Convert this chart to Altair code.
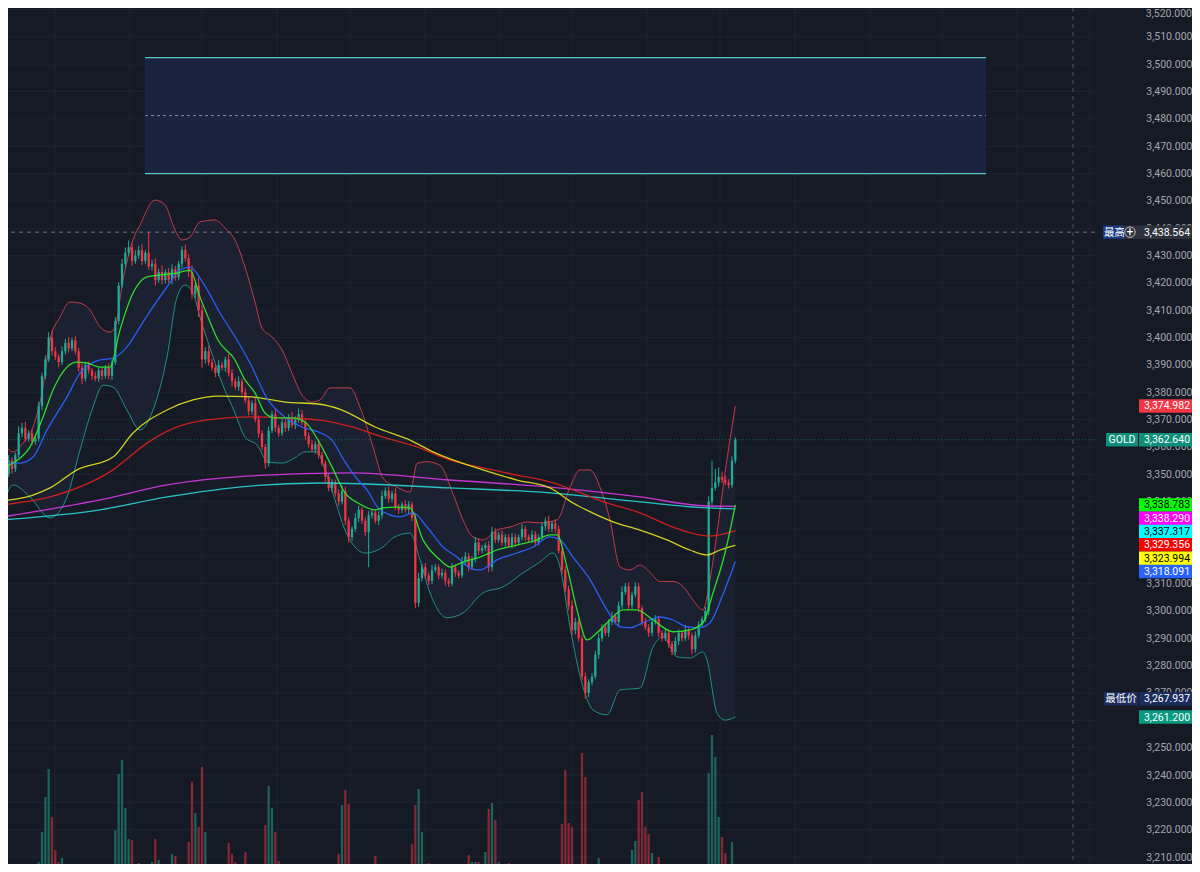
import altair as alt
import pandas as pd
import numpy as np

# ---------------- data ----------------
first_open = 3357.0
closes = [
    3354, 3350, 3355, 3352, 3357, 3365, 3367, 3363, 3365, 3362,
    3363, 3375, 3386, 3392, 3400, 3395, 3393, 3391, 3395, 3398,
    3396, 3399, 3395, 3389, 3385, 3390, 3388, 3386, 3385, 3388,
    3386, 3389, 3386, 3391, 3406, 3419, 3427, 3431, 3433, 3428,
    3430, 3432, 3428, 3431, 3426, 3427, 3421, 3424, 3421, 3424,
    3421, 3425, 3422, 3427, 3432, 3429, 3424, 3416, 3419, 3410,
    3392, 3395, 3391, 3389, 3387, 3390, 3389, 3392, 3387, 3384,
    3382, 3384, 3380, 3377, 3373, 3376, 3370, 3365, 3360, 3354,
    3366, 3372, 3367, 3365, 3369, 3367, 3371, 3368, 3370, 3372,
    3369, 3364, 3361, 3359, 3361, 3357, 3354, 3349, 3345, 3347,
    3343, 3340, 3344, 3333, 3327, 3330, 3334, 3337, 3333, 3329,
    3335, 3336, 3333, 3335, 3342, 3344, 3341, 3343, 3338, 3337,
    3339, 3337, 3339, 3334, 3303, 3312, 3316, 3313, 3311, 3315,
    3316, 3313, 3314, 3311, 3310, 3316, 3314, 3313, 3318, 3320,
    3316, 3319, 3325, 3322, 3323, 3324, 3316, 3329, 3326, 3328,
    3325, 3327, 3324, 3327, 3325, 3327, 3330, 3327, 3326, 3328,
    3325, 3327, 3331, 3333, 3330, 3332, 3330, 3322, 3315, 3308,
    3302, 3293, 3296, 3290, 3276, 3270, 3274, 3276, 3284, 3290,
    3294, 3292, 3296, 3298, 3296, 3302, 3307, 3309, 3302, 3306,
    3309, 3301, 3296, 3294, 3292, 3296, 3297, 3292, 3290, 3292,
    3288, 3285, 3289, 3292, 3290, 3293, 3291, 3286, 3291, 3295,
    3297, 3300, 3340, 3345, 3347, 3349, 3348, 3347, 3346, 3355,
    3362.64,
]
wick_up = [
    1.5, 1.0, 2.0, 1.2, 1.0, 2.5, 1.8, 2.2, 1.0, 1.5,
    1.0, 1.5, 1.2, 1.5, 2.0, 2.5, 1.5, 1.0, 1.8, 1.5,
    2.2, 1.0, 1.5, 1.2, 1.8, 1.0, 1.2, 0.8, 1.5, 1.0,
    1.2, 1.0, 1.5, 1.0, 1.5, 1.2, 1.8, 2.0, 2.5, 1.5,
    2.0, 1.5, 2.2, 1.0, 7.564, 1.5, 2.0, 1.2, 2.5, 1.0,
    1.5, 1.8, 1.2, 1.0, 1.5, 2.0, 1.5, 2.5, 1.0, 3.0,
    2.0, 1.5, 2.0, 1.2, 1.0, 1.8, 1.2, 1.0, 2.0, 1.5,
    1.2, 1.8, 1.0, 1.5, 1.2, 1.0, 2.0, 1.5, 1.2, 1.0,
    1.5, 1.2, 2.0, 1.0, 1.5, 1.2, 1.0, 1.8, 1.2, 2.0,
    1.5, 1.0, 1.2, 1.5, 1.0, 1.8, 1.2, 1.0, 1.5, 1.2,
    1.0, 1.5, 2.0, 1.5, 1.2, 1.0, 1.8, 1.5, 1.0, 1.2,
    1.5, 1.2, 1.0, 1.5, 2.0, 1.2, 1.5, 1.0, 1.8, 1.2,
    1.0, 1.5, 1.2, 1.0, 1.5, 2.0, 1.2, 1.5, 1.0, 1.8,
    1.2, 1.0, 1.5, 1.2, 1.0, 1.5, 1.2, 1.0, 1.8, 1.5,
    1.2, 1.0, 2.0, 1.5, 1.2, 1.0, 1.5, 1.8, 1.2, 1.0,
    1.5, 1.2, 1.0, 1.5, 1.2, 1.0, 1.8, 1.2, 1.0, 1.5,
    1.2, 1.0, 1.5, 1.2, 1.8, 1.0, 1.5, 1.2, 1.0, 1.5,
    1.2, 1.8, 1.5, 1.0, 1.2, 1.5, 1.0, 1.2, 1.5, 1.8,
    1.2, 1.5, 1.0, 1.8, 1.2, 1.5, 2.0, 1.2, 1.5, 1.0,
    1.5, 1.2, 1.0, 1.5, 1.2, 1.0, 1.5, 1.2, 1.0, 1.5,
    1.2, 1.0, 1.5, 1.2, 1.0, 1.8, 1.2, 1.0, 1.5, 1.2,
    1.0, 1.5, 2.0, 10.0, 5.0, 3.5, 2.0, 1.5, 1.2, 1.5,
    0.8,
]
wick_dn = [
    1.2, 1.5, 1.0, 1.8, 1.2, 1.0, 1.5, 1.2, 1.0, 1.5,
    1.2, 1.0, 1.5, 1.2, 1.0, 1.5, 1.2, 1.8, 1.0, 1.2,
    1.5, 1.0, 1.2, 1.5, 2.0, 1.0, 1.2, 1.5, 1.0, 1.2,
    1.5, 1.0, 1.2, 1.5, 1.0, 1.2, 1.0, 1.5, 1.2, 1.8,
    1.0, 1.2, 1.5, 1.0, 1.2, 1.5, 2.0, 1.0, 1.5, 1.2,
    1.0, 1.5, 1.2, 1.0, 1.5, 1.2, 1.8, 2.0, 1.5, 2.5,
    3.0, 1.5, 1.2, 1.0, 1.5, 1.2, 1.0, 1.5, 1.2, 1.8,
    1.0, 1.5, 1.2, 1.0, 1.5, 1.2, 1.0, 1.5, 1.2, 2.0,
    1.2, 1.0, 1.5, 1.2, 1.0, 1.5, 1.2, 1.0, 1.5, 1.2,
    1.0, 1.5, 1.2, 1.0, 1.5, 1.2, 1.0, 1.8, 1.2, 1.5,
    1.2, 1.5, 1.0, 1.5, 2.0, 1.2, 1.0, 1.5, 1.2, 1.5,
    13.0, 1.2, 1.0, 1.5, 1.2, 1.0, 1.5, 1.2, 1.0, 1.5,
    1.2, 1.0, 1.5, 1.2, 2.0, 1.5, 1.2, 1.0, 1.5, 1.2,
    1.0, 1.5, 1.2, 1.8, 1.2, 1.0, 1.5, 1.2, 1.0, 1.2,
    1.5, 1.0, 1.2, 1.5, 1.0, 1.2, 1.8, 1.5, 1.2, 1.0,
    1.2, 1.5, 1.0, 1.2, 1.5, 1.0, 1.2, 1.5, 1.0, 1.2,
    1.5, 1.0, 1.2, 1.5, 1.0, 1.2, 1.5, 1.0, 1.5, 1.2,
    1.8, 2.0, 1.5, 1.2, 1.5, 2.063, 1.5, 1.2, 1.0, 1.5,
    1.2, 1.0, 1.5, 1.2, 1.0, 1.5, 1.2, 1.0, 1.5, 1.2,
    1.0, 1.5, 1.2, 1.0, 1.5, 1.2, 1.0, 1.5, 1.2, 1.0,
    1.5, 1.2, 1.0, 1.5, 1.2, 1.0, 1.5, 1.8, 1.2, 1.0,
    1.2, 1.0, 1.5, 1.2, 1.0, 1.5, 1.2, 1.0, 1.2, 1.0,
    1.0,
]
volume = [
    2, 1, 2, 1, 3, 7, 2, 1, 2, 1,
    3, 10, 40, 75, 103, 55, 22, 10, 14, 3,
    2, 1, 3, 8, 2, 1, 2, 1, 3, 2,
    1, 2, 1, 3, 42, 98, 112, 64, 33, 32,
    4, 9, 3, 2, 1, 10, 33, 12, 2, 3,
    5, 18, 16, 2, 4, 1, 30, 90, 59, 45,
    105, 40, 4, 5, 2, 1, 3, 2, 29, 18,
    10, 3, 2, 20, 8, 8, 2, 3, 1, 47,
    86, 64, 40, 11, 2, 1, 3, 2, 1, 2,
    1, 3, 2, 1, 2, 3, 1, 2, 3, 2,
    1, 18, 67, 82, 68, 8, 2, 1, 3, 2,
    3, 1, 16, 2, 3, 1, 2, 3, 1, 2,
    1, 2, 3, 28, 67, 83, 40, 6, 9, 2,
    5, 1, 2, 3, 1, 2, 1, 3, 2, 1,
    17, 10, 10, 10, 3, 20, 63, 69, 52, 10,
    6, 2, 9, 1, 3, 2, 1, 5, 2, 1,
    2, 3, 1, 2, 1, 3, 2, 3, 48, 102,
    49, 45, 6, 2, 119, 95, 3, 2, 1, 14,
    2, 3, 1, 2, 7, 1, 3, 2, 7, 22,
    31, 72, 80, 45, 38, 19, 3, 15, 2, 1,
    3, 4, 2, 1, 3, 2, 1, 2, 3, 2,
    3, 2, 99, 137, 115, 55, 35, 19, 3, 30,
    8,
]

# Bollinger upper / lower (candle index, price)
upper_idx = [0, 3.3, 6.3, 9.3, 12.3, 14.4, 17.4, 20.4, 23.4, 26.4, 29.4, 32.4, 33.9, 36.3, 39.3,
             41.4, 45.9, 48.9, 51.9, 54, 56.4, 59.4, 63.9, 66.9, 69.9, 72.9, 75.9, 78, 81, 84,
             87, 90, 93, 95.4, 98.4, 104.4, 107.4, 111.3, 114.3, 118.5, 122.4, 124.5, 127.5,
             131.4, 135.3, 138.3, 141.3, 144.3, 148.5, 152.4, 157.5, 161.4, 166.5, 170.4, 173.4,
             176.4, 179.4, 182.4, 185.4, 188.4, 191.4, 194.4, 197.4, 201.3, 204.3, 207.3, 210.3,
             212.4, 214.5, 216.9, 220]
upper_val = [3362.5, 3358.2, 3361.4, 3367.3, 3381.9, 3399.1, 3407.5, 3413.0, 3412.6, 3410.1,
             3403.9, 3402.0, 3403.9, 3421.1, 3435.7, 3441.2, 3450.3, 3448.5, 3439.4, 3435.7,
             3436.8, 3442.3, 3443.0, 3440.1, 3435.7, 3425.8, 3413.0, 3403.5, 3400.2, 3395.5,
             3387.0, 3379.0, 3376.4, 3377.2, 3381.6, 3381.6, 3374.6, 3360.0, 3348.6, 3345.3,
             3343.5, 3353.9, 3354.6, 3353.3, 3342.8, 3333.3, 3327.1, 3326.0, 3329.6, 3330.7,
             3332.6, 3332.2, 3333.3, 3345.3, 3351.6, 3351.6, 3345.3, 3333.3, 3316.1, 3315.0,
             3316.8, 3314.1, 3310.8, 3310.8, 3309.0, 3304.0, 3300.4, 3311.5, 3328.5, 3350.5,
             3374.982]
lower_idx = [0, 3.3, 8.4, 14.4, 19.5, 23.4, 27.3, 30.3, 33.3, 37.5, 41.4, 45.3, 49.5, 52.5, 54.9,
             57.3, 59.4, 63.3, 66, 69.9, 72.9, 76.5, 79.8, 84, 87.9, 90.9, 94.5, 96.9, 99.9, 102.9,
             105.9, 108.9, 114.3, 117.3, 122.4, 125.4, 128.4, 133.5, 138.3, 144.3, 150.3, 156.3,
             161.4, 165.3, 167.4, 170.4, 174.3, 177.3, 181.5, 185.4, 191.4, 195.3, 198.3, 202.5,
             206.4, 210.3, 211.5, 214.5, 216.9, 220]
lower_val = [3336.9, 3346.1, 3341.7, 3334.0, 3341.7, 3358.9, 3374.6, 3382.6, 3381.9, 3373.5,
             3366.2, 3373.5, 3392.9, 3414.8, 3419.2, 3416.3, 3407.5, 3392.9, 3383.4, 3372.4,
             3363.6, 3360.7, 3354.5, 3354.1, 3356.0, 3358.2, 3358.2, 3351.6, 3340.6, 3329.6,
             3323.4, 3321.2, 3323.4, 3326.7, 3328.5, 3318.7, 3306.6, 3297.5, 3299.3, 3306.6,
             3308.8, 3313.9, 3317.9, 3321.2, 3316.1, 3294.2, 3272.2, 3263.8, 3262.0, 3271.1,
             3271.8, 3286.8, 3290.5, 3283.2, 3282.8, 3285.0, 3282.1, 3262.7, 3260.1, 3261.2]
# moving averages
green_idx = [0, 3.3, 8.4, 12.3, 15.3, 19.5, 22.5, 25.5, 29.4, 32.4, 35.4, 39.3, 43.5, 47.4, 52.5,
             56.4, 59.4, 61.8, 64.8, 69.9, 72.9, 75.9, 78.9, 81.9, 87, 90.9, 94.8, 99, 102.9,
             106.8, 111.9, 114.3, 118.5, 122.4, 126.3, 131.4, 134.4, 138.3, 143.4, 148.5, 154.5,
             160.5, 164.4, 166.5, 169.5, 172.5, 175.5, 178.5, 182.4, 186.3, 190.5, 195.3, 201.3,
             206.4, 210.3, 213.3, 216.9, 220]
green_val = [3352.3, 3354.1, 3360.0, 3370.9, 3380.8, 3389.2, 3391.0, 3390.7, 3389.2, 3389.2,
             3402.8, 3416.3, 3422.2, 3422.9, 3423.6, 3424.7, 3414.8, 3407.5, 3399.1, 3391.8,
             3384.5, 3379.8, 3372.4, 3370.6, 3370.6, 3369.1, 3362.5, 3352.7, 3343.2, 3339.5,
             3337.0, 3337.7, 3338.0, 3337.7, 3326.0, 3318.7, 3316.1, 3317.9, 3319.7, 3322.3,
             3324.1, 3326.0, 3327.8, 3327.8, 3316.1, 3300.4, 3289.4, 3292.0, 3296.7, 3300.4,
             3300.4, 3296.7, 3292.4, 3293.1, 3295.7, 3306.6, 3321.2, 3338.783]
blue_idx = [0, 5.4, 9.3, 13.5, 19.5, 23.4, 29.4, 33.3, 37.5, 41.4, 45.3, 49.5, 53.4, 56.4, 60.3,
            65.4, 70.5, 74.4, 79.8, 84.9, 90, 94.8, 99, 102.9, 106.8, 109.5, 113.4, 119.4, 123.3,
            127.5, 132.3, 136.5, 140.4, 143.4, 148.5, 154.5, 159.3, 164.4, 167.4, 171.3, 176.4,
            181.5, 185.4, 188.4, 192.3, 197.4, 201.3, 205.5, 209.4, 212.4, 216, 220]
blue_val = [3354.1, 3354.1, 3356.3, 3366.2, 3378.3, 3387.0, 3391.8, 3392.5, 3396.6, 3403.9,
            3411.2, 3418.5, 3424.7, 3425.8, 3420.0, 3409.0, 3399.1, 3390.7, 3377.2, 3370.9,
            3367.3, 3365.5, 3362.5, 3354.5, 3347.9, 3344.3, 3337.0, 3334.4, 3335.9, 3330.7,
            3323.4, 3319.7, 3315.7, 3315.0, 3318.7, 3321.2, 3323.4, 3327.1, 3326.0, 3319.7,
            3311.5, 3300.4, 3294.2, 3293.9, 3295.7, 3297.8, 3296.7, 3294.2, 3293.9, 3295.7,
            3305.2, 3318.091]
yellow_idx = [0, 9.3, 14.4, 22.5, 33.3, 39.3, 49.5, 57.3, 64.8, 75, 84.9, 94.8, 102, 111.9, 122.4,
              129.3, 144.3, 154.5, 164.4, 171.3, 177.3, 183.3, 191.4, 199.5, 206.4, 211.5, 215.4, 220]
yellow_val = [3340.3, 3342.4, 3345.0, 3351.6, 3356.3, 3365.1, 3373.5, 3377.2, 3378.6, 3378.3,
              3376.4, 3375.7, 3373.5, 3367.3, 3362.5, 3358.2, 3351.6, 3347.9, 3345.0, 3339.5,
              3335.8, 3332.6, 3329.6, 3326.0, 3322.3, 3320.5, 3322.3, 3323.994]
red_idx = [0, 14.4, 33.3, 43.5, 52.5, 61.5, 74.4, 84.9, 94.8, 105, 114.3, 124.5, 134.4, 144.3,
           154.5, 164.4, 171.3, 181.5, 191.4, 201.3, 209.4, 212.4, 220]
red_val = [3338.8, 3341.7, 3351.6, 3361.4, 3367.3, 3369.9, 3371.0, 3370.6, 3369.9, 3367.3,
           3363.6, 3360.0, 3355.2, 3352.3, 3349.7, 3347.2, 3344.3, 3339.5, 3335.9, 3330.7,
           3327.8, 3327.4, 3329.356]
magenta_idx = [0, 29.4, 49.5, 74.4, 104.4, 134.4, 164.4, 191.4, 211.5, 220]
magenta_val = [3334.4, 3340.6, 3346.1, 3349.4, 3350.5, 3347.9, 3345.3, 3341.7, 3338.4, 3338.290]
cyan_idx = [0, 29.4, 49.5, 74.4, 95.4, 134.4, 164.4, 191.4, 211.5, 220]
cyan_val = [3333.3, 3337.0, 3341.7, 3345.7, 3346.8, 3345.0, 3343.2, 3339.9, 3337.7, 3337.317]

# rectangle drawing (start/end candle index, low/high price)
box_start, box_end = [42.9], [295.2]
box_low, box_high = [3460.0], [3502.4]
box_mid = [3481.2]
# grid / markers
price_ticks = list(range(3210, 3530, 10))
# axis labels fully covered by price tags in the reference are not drawn
covered_ticks = [3260, 3320, 3330]
vgrid_idx = [15.9, 38.4, 60.0, 82.5, 104.4, 126.9, 149.4, 171.0, 193.5, 215.4, 237.9, 260.4,
             282.0, 304.5, 326.4]
session_marker = [321.3]
symbol = "GOLD"

# ---------------- styling ----------------
BG = "#161a25"
GRID = "#1f2330"
BAND_FILL = "#1b2131"
UP = "#22ab94"
DOWN = "#f23645"
FONT = "Roboto"
CJK = "Noto Sans CJK SC"
LABEL_COLOR = "#a3a6af"
W, H = 1087, 856
P_LO, P_HI = 3207.45, 3520.55
I_LO, I_HI = 1.8, 327.9
TAG_X0, TAG_X1, TAG_TX = 1131, 1188, 1159

xs = alt.Scale(domain=[I_LO, I_HI], nice=False, zero=False)
ys = alt.Scale(domain=[P_LO, P_HI], nice=False, zero=False)


def X(f):
    return alt.X(f, type="quantitative", scale=xs, axis=None)


def Y(f):
    return alt.Y(f, type="quantitative", scale=ys, axis=None)


opens = [first_open] + closes[:-1]
cd = pd.DataFrame({"i": np.arange(len(closes)), "open": opens, "close": closes,
                   "wu": wick_up, "wd": wick_dn, "vol": volume})
cd["high"] = cd[["open", "close"]].max(axis=1) + cd["wu"]
cd["low"] = cd[["open", "close"]].min(axis=1) - cd["wd"]
cd["dir"] = np.where(cd["close"] >= cd["open"], "up", "down")
cd["x0"] = cd["i"] - 0.34
cd["x1"] = cd["i"] + 0.34
dir_color = alt.Color("dir:N", scale=alt.Scale(domain=["up", "down"], range=[UP, DOWN]), legend=None)


def series(idx, val):
    return pd.DataFrame({"i": idx, "v": val})


layers = []
# band fill (upper down to bottom) and mask (lower down to bottom)
layers.append(alt.Chart(series(upper_idx, upper_val)).mark_area(
    clip=True, interpolate="monotone", color=BAND_FILL).encode(
    x=X("i"), y=Y("v"), y2=alt.datum(P_LO)))
layers.append(alt.Chart(series(lower_idx, lower_val)).mark_area(
    clip=True, interpolate="monotone", color=BG).encode(
    x=X("i"), y=Y("v"), y2=alt.datum(P_LO)))

# grid + price axis (top label drawn separately so it is not cut at the edge)
axis_ticks = [t for t in price_ticks[:-1] if t not in covered_ticks]
layers.append(alt.Chart(pd.DataFrame({"p": price_ticks})).mark_rule(
    color=GRID, strokeWidth=1).encode(
    y=alt.Y("p:Q", scale=ys, axis=alt.Axis(
        orient="right", values=axis_ticks, format=",.3f", labelAlign="right",
        labelPadding=97, tickSize=0, ticks=False, domain=False, grid=False,
        labelFont=FONT, labelFontSize=10.5, labelColor=LABEL_COLOR, labelOverlap=False,
        title=None))))
top_df = pd.DataFrame({"p": [price_ticks[-1]], "t": [f"{price_ticks[-1]:,.3f}"]})
layers.append(alt.Chart(top_df).mark_text(
    font=FONT, fontSize=10.5, color=LABEL_COLOR, align="right", baseline="top", dy=-1).encode(
    x=alt.value(W + 97), y=Y("p"), text="t:N"))
layers.append(alt.Chart(pd.DataFrame({"g": vgrid_idx})).mark_rule(
    color=GRID, strokeWidth=1).encode(x=X("g")))

# rectangle drawing
box_df = pd.DataFrame({"s": box_start, "e": box_end, "lo": box_low, "hi": box_high, "m": box_mid})
layers.append(alt.Chart(box_df).mark_rect(color="#1a2340", clip=True).encode(
    x=X("s"), x2="e", y=Y("lo"), y2="hi"))
edges = pd.DataFrame({"s": box_start * 2, "e": box_end * 2, "p": box_low + box_high})
layers.append(alt.Chart(edges).mark_rule(color="#5cc6c0", strokeWidth=1.2).encode(
    x=X("s"), x2="e", y=Y("p")))
layers.append(alt.Chart(box_df).mark_rule(color="#7d8aa8", strokeWidth=1, strokeDash=[3, 3]).encode(
    x=X("s"), x2="e", y=Y("m")))

# volume (own scale)
layers.append(alt.Chart(cd).mark_rect(clip=True, opacity=0.5).encode(
    x=X("x0"), x2="x1",
    y=alt.Y("vol:Q", scale=alt.Scale(domain=[8, 864], nice=False, zero=False), axis=None),
    y2=alt.datum(0), color=dir_color))

# bands and MAs
line_specs = [
    (upper_idx, upper_val, "#e0404f", 1.0, 0.85),
    (lower_idx, lower_val, "#1f9c8a", 1.0, 0.9),
    (cyan_idx, cyan_val, "#2ad6d6", 1.3, 0.9),
    (magenta_idx, magenta_val, "#d83ae8", 1.3, 0.9),
    (red_idx, red_val, "#e0201f", 1.3, 0.9),
    (yellow_idx, yellow_val, "#f0f020", 1.3, 0.85),
    (blue_idx, blue_val, "#2962ff", 1.3, 0.95),
    (green_idx, green_val, "#2ee62a", 1.3, 0.95),
]
line_layers = []
for idx, val, col, sw, op in line_specs:
    line_layers.append(alt.Chart(series(idx, val)).mark_line(
        clip=True, interpolate="monotone", color=col, strokeWidth=sw, opacity=op).encode(
        x=X("i"), y=Y("v")))
layers += line_layers[:2]

# candles
layers.append(alt.Chart(cd).mark_rule(clip=True, strokeWidth=1).encode(
    x=X("i"), y=Y("low"), y2="high", color=dir_color))
layers.append(alt.Chart(cd).mark_rect(clip=True).encode(
    x=X("x0"), x2="x1", y=Y("open"), y2="close", color=dir_color))
layers += line_layers[2:]

hi_val = float(cd["high"].max())
lo_val = float(cd["low"].min())
last_close = float(closes[-1])

# price lines / markers
layers.append(alt.Chart(pd.DataFrame({"p": [hi_val]})).mark_rule(
    color="#8a8d96", strokeWidth=1, strokeDash=[4, 4], opacity=0.8).encode(y=Y("p")))
layers.append(alt.Chart(pd.DataFrame({"p": [last_close]})).mark_rule(
    color="#089981", strokeWidth=1, strokeDash=[1, 2], opacity=0.6).encode(y=Y("p")))
layers.append(alt.Chart(pd.DataFrame({"m": session_marker})).mark_rule(
    color="#50535e", strokeWidth=1, strokeDash=[4, 4]).encode(x=X("m")))


# ---------------- price tags ----------------
def tag(price, bg, fg, yoff=0.0, x0=TAG_X0, x1=TAG_X1, tx=TAG_TX, text=None,
        font=FONT, size=10.5, align="center"):
    df = pd.DataFrame({"p": [price], "t": [text if text is not None else f"{price:,.3f}"]})
    r = alt.Chart(df).mark_rule(color=bg, strokeWidth=13.5, yOffset=yoff).encode(
        x=alt.value(x0), x2=alt.value(x1), y=Y("p"))
    t = alt.Chart(df).mark_text(color=fg, font=font, fontSize=size, align=align,
                                baseline="middle", yOffset=yoff + 0.5).encode(
        x=alt.value(tx), y=Y("p"), text="t:N")
    return [r, t]


def to_px(p):
    return (P_HI - p) / (P_HI - P_LO) * H


tags = []
tags += tag(upper_val[-1], "#f23645", "#ffffff")
tags += tag(last_close, "#0d8f7c", "#ffffff", x0=1098, x1=1130, tx=1114, text=symbol)
tags += tag(last_close, "#0d8f7c", "#ffffff")
# stacked MA tags (simple collision resolution)
ma_tags = [
    (green_val[-1], "#00ff00", "#000000"),
    (magenta_val[-1], "#ff00ff", "#ffffff"),
    (cyan_val[-1], "#00ffff", "#000000"),
    (red_val[-1], "#ff0000", "#ffffff"),
    (yellow_val[-1], "#ffff00", "#000000"),
    (blue_val[-1], "#2962ff", "#ffffff"),
]
ma_tags.sort(key=lambda t: -t[0])
prev = None
for p, bgc, fgc in ma_tags:
    nat = to_px(p)
    pos = nat if prev is None else max(nat, prev + 13.3)
    prev = pos
    tags += tag(p, bgc, fgc, yoff=pos - nat)
# high / low tags
tags += tag(hi_val, "#1d3a80", "#ffffff", x0=1095, x1=1116, tx=1096, text="最高",
            font=CJK, size=10.5, align="left")
tags += tag(hi_val, "#2e323d", "#ffffff", x0=1116, x1=TAG_X1)
hi_df = pd.DataFrame({"p": [hi_val]})
tags.append(alt.Chart(hi_df).mark_point(shape="circle", size=110, filled=False, color="#ffffff",
                                        strokeWidth=1).encode(x=alt.value(1122), y=Y("p")))
tags.append(alt.Chart(hi_df).mark_text(text="+", color="#ffffff", fontSize=12, font=FONT,
                                       baseline="middle", align="center").encode(
    x=alt.value(1122), y=Y("p")))
tags += tag(lo_val, "#1c2c5e", "#ffffff", x0=1096, x1=1130, tx=1113, text="最低价",
            font=CJK, size=10.5)
tags += tag(lo_val, "#1c2c5e", "#ffffff")
tags += tag(lower_val[-1], "#089981", "#ffffff")
layers += tags

chart = alt.layer(*layers).resolve_scale(y="independent").properties(
    width=W, height=H, background=BG,
    autosize=alt.AutoSizeParams(type="none"),
    padding={"left": 0, "top": 0, "right": 97, "bottom": 0},
).configure_view(stroke=None, fill=BG)

chart.save("out.html", embed_options={"renderer": "svg", "actions": False})
